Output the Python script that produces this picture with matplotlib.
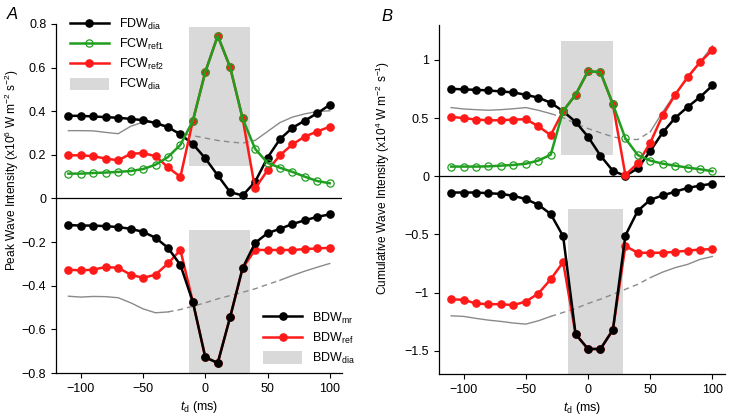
import numpy as np
import matplotlib
matplotlib.use("Agg")
import matplotlib.pyplot as plt

plt.rcParams["font.family"] = ["Liberation Sans", "DejaVu Sans"]
plt.rcParams["font.size"] = 9
plt.rcParams["mathtext.fontset"] = "custom"
plt.rcParams["mathtext.rm"] = "Liberation Sans"
plt.rcParams["mathtext.it"] = "Liberation Sans:italic"
plt.rcParams["axes.unicode_minus"] = True

# delay times (ms)
td = np.arange(-110, 101, 10)

# ---- panel A, peak wave intensity (x10^6 W m^-2 s^-2)
fdw_dia = [0.379, 0.379, 0.376, 0.373, 0.370, 0.365, 0.359, 0.346, 0.327, 0.294, 0.250,
           0.184, 0.106, 0.029, 0.014, 0.076, 0.187, 0.272, 0.324, 0.357, 0.391, 0.429]
fcw_ref1 = [0.114, 0.114, 0.117, 0.119, 0.122, 0.126, 0.135, 0.155, 0.190, 0.246, 0.356,
            0.580, 0.746, 0.601, 0.367, 0.228, 0.163, 0.141, 0.122, 0.100, 0.080, 0.070]
fcw_ref2 = [0.198, 0.198, 0.194, 0.183, 0.175, 0.205, 0.208, 0.194, 0.143, 0.099, 0.356,
            0.580, 0.746, 0.601, 0.367, 0.046, 0.129, 0.198, 0.248, 0.284, 0.307, 0.329]
fwd_ref_A = [0.311, 0.311, 0.310, 0.303, 0.297, 0.331, 0.350, 0.349, 0.330, 0.300, 0.288,
             0.277, 0.266, 0.259, 0.254, 0.266, 0.307, 0.348, 0.373, 0.388, 0.399, 0.402]
bdw_mr = [-0.122, -0.124, -0.124, -0.127, -0.131, -0.139, -0.153, -0.180, -0.226, -0.305, -0.474,
          -0.728, -0.754, -0.543, -0.319, -0.204, -0.159, -0.139, -0.117, -0.100, -0.084, -0.073]
bdw_ref = [-0.326, -0.330, -0.326, -0.314, -0.318, -0.349, -0.364, -0.349, -0.298, -0.236, -0.474,
           -0.728, -0.754, -0.543, -0.319, -0.236, -0.236, -0.236, -0.236, -0.232, -0.229, -0.226]
bwd_ref_A = [-0.448, -0.452, -0.449, -0.450, -0.455, -0.478, -0.506, -0.524, -0.520, -0.509, -0.494,
             -0.478, -0.460, -0.445, -0.430, -0.414, -0.394, -0.375, -0.353, -0.333, -0.315, -0.298]
fcw_dia_box_A = [-13, 36, 0.148, 0.784]
bdw_dia_box_A = [-13, 36, -0.8, -0.145]

# ---- panel B, cumulative wave intensity (x10^4 W m^-2 s^-1)
fdw_dia_B = [0.752, 0.746, 0.743, 0.737, 0.729, 0.720, 0.700, 0.675, 0.632, 0.558, 0.467,
             0.339, 0.177, 0.046, 0.003, 0.068, 0.216, 0.376, 0.501, 0.595, 0.680, 0.780]
fcw_ref1_B = [0.083, 0.083, 0.083, 0.085, 0.091, 0.097, 0.108, 0.134, 0.185, 0.561, 0.700,
              0.903, 0.894, 0.618, 0.325, 0.182, 0.134, 0.108, 0.091, 0.074, 0.060, 0.043]
fcw_ref2_B = [0.510, 0.500, 0.487, 0.481, 0.481, 0.487, 0.490, 0.430, 0.353, 0.561, 0.700,
              0.903, 0.894, 0.618, 0.011, 0.111, 0.287, 0.524, 0.700, 0.851, 0.980, 1.085]
fwd_ref_B = [0.590, 0.578, 0.572, 0.567, 0.572, 0.580, 0.590, 0.567, 0.538, 0.504, 0.453,
             0.410, 0.373, 0.339, 0.316, 0.316, 0.381, 0.552, 0.709, 0.840, 0.980, 1.120]
bdw_mr_B = [-0.140, -0.140, -0.140, -0.146, -0.152, -0.168, -0.197, -0.245, -0.325, -0.516, -1.357,
            -1.485, -1.485, -1.320, -0.510, -0.297, -0.203, -0.165, -0.133, -0.101, -0.081, -0.064]
bdw_ref_B = [-1.057, -1.063, -1.094, -1.100, -1.100, -1.108, -1.077, -1.009, -0.886, -0.738, -1.357,
             -1.485, -1.485, -1.320, -0.600, -0.658, -0.658, -0.658, -0.650, -0.640, -0.630, -0.627]
bwd_ref_B = [-1.200, -1.205, -1.222, -1.237, -1.248, -1.262, -1.271, -1.243, -1.205, -1.171, -1.137,
             -1.094, -1.057, -1.015, -0.972, -0.929, -0.872, -0.824, -0.786, -0.758, -0.715, -0.690]
fcw_dia_box_B = [-22, 20, 0.18, 1.16]
bdw_dia_box_B = [-16, 28, -1.7, -0.28]

# dashed part of the grey reference curves (start, end in ms)
dash_A_top = (-30, 40)
dash_A_bot = (-30, 60)
dash_B_top = (-30, 50)
dash_B_bot = (-30, 50)

BLACK = "black"
GREEN = "#1f9e1f"
RED = "#ff1a1a"
GREY = "#8a8a8a"
BOX = "#d9d9d9"


def grey_curve(ax, y, dash):
    y = np.asarray(y)
    i = int(np.where(td == dash[0])[0][0])
    j = int(np.where(td == dash[1])[0][0])
    ax.plot(td[:i + 1], y[:i + 1], color=GREY, lw=1.0, zorder=2)
    ax.plot(td[i:j + 1], y[i:j + 1], color=GREY, lw=1.0, ls=(0, (4, 3)), zorder=2)
    ax.plot(td[j:], y[j:], color=GREY, lw=1.0, zorder=2)


def box(ax, b, label=None):
    ax.fill_between([b[0], b[1]], b[2], b[3], color=BOX, lw=0, zorder=1, label=label)


def style(ax):
    for s in ["top", "right"]:
        ax.spines[s].set_visible(False)
    ax.spines["left"].set_linewidth(0.9)
    ax.spines["bottom"].set_linewidth(0.9)
    ax.tick_params(direction="out", length=3.5, width=0.8, labelsize=9)
    ax.axhline(0, color="black", lw=0.9, zorder=1.5)
    ax.set_xlim(-120, 110)
    ax.set_xticks([-100, -50, 0, 50, 100])
    ax.set_xlabel(r"$t_{\mathrm{d}}$ (ms)", fontsize=9, labelpad=3)


ms = 5.2
fig = plt.figure(figsize=(7.3, 4.15), dpi=100)

# ---------------- A
axA = fig.add_axes([0.0767, 0.1012, 0.392, 0.841])
box(axA, fcw_dia_box_A, r"FCW$_{\mathrm{dia}}$")
box(axA, bdw_dia_box_A, r"BDW$_{\mathrm{dia}}$")
grey_curve(axA, fwd_ref_A, dash_A_top)
grey_curve(axA, bwd_ref_A, dash_A_bot)
l1, = axA.plot(td, fdw_dia, "-o", color=BLACK, lw=1.8, ms=ms, zorder=3)
l3, = axA.plot(td, fcw_ref2, "-o", color=RED, lw=1.8, ms=ms, zorder=4)
l2, = axA.plot(td, fcw_ref1, "-o", color=GREEN, mfc="none", mew=0.9, lw=1.8, ms=ms, zorder=5)
l5, = axA.plot(td, bdw_ref, "-o", color=RED, lw=1.8, ms=ms, zorder=3)
l4, = axA.plot(td, bdw_mr, "-o", color=BLACK, lw=1.8, ms=ms, zorder=4)
style(axA)
axA.set_ylim(-0.8, 0.8)
yt = np.round(np.arange(-0.8, 0.81, 0.2), 1)
axA.set_yticks(yt)
axA.set_yticklabels(["0" if v == 0 else f"{v:g}".replace("-", "\u2212") for v in yt])
axA.set_ylabel(r"Peak Wave Intensity (x10$^{6}$ W m$^{-2}$ s$^{-2}$)", fontsize=8.6)
axA.yaxis.set_label_coords(-0.122, 0.58)

hA = axA.get_legend_handles_labels()[0]
patch_top, patch_bot = hA[0], hA[1]
leg1 = axA.legend([l1, l2, l3, patch_top],
                  [r"FDW$_{\mathrm{dia}}$", r"FCW$_{\mathrm{ref1}}$", r"FCW$_{\mathrm{ref2}}$", r"FCW$_{\mathrm{dia}}$"],
                  loc="upper left", bbox_to_anchor=(0.049, 1.02), frameon=False, borderpad=0,
                  borderaxespad=0, handlelength=3.1, handleheight=1.2, labelspacing=0.4,
                  handletextpad=0.8, numpoints=1, fontsize=9)
axA.add_artist(leg1)
axA.legend([l4, l5, patch_bot],
           [r"BDW$_{\mathrm{mr}}$", r"BDW$_{\mathrm{ref}}$", r"BDW$_{\mathrm{dia}}$"],
           loc="lower left", bbox_to_anchor=(0.724, 0.02), frameon=False, borderpad=0,
           borderaxespad=0, handlelength=3.1, handleheight=1.2, labelspacing=0.4,
           handletextpad=0.8, numpoints=1, fontsize=9)
fig.text(0.010, 0.965, "A", fontsize=12, style="italic", va="center")

# ---------------- B
axB = fig.add_axes([0.601, 0.0988, 0.392, 0.841])
box(axB, fcw_dia_box_B)
box(axB, bdw_dia_box_B)
grey_curve(axB, fwd_ref_B, dash_B_top)
grey_curve(axB, bwd_ref_B, dash_B_bot)
axB.plot(td, fdw_dia_B, "-o", color=BLACK, lw=1.8, ms=ms, zorder=3)
axB.plot(td, fcw_ref2_B, "-o", color=RED, lw=1.8, ms=ms, zorder=4)
axB.plot(td, fcw_ref1_B, "-o", color=GREEN, mfc="none", mew=0.9, lw=1.8, ms=ms, zorder=5)
axB.plot(td, bdw_ref_B, "-o", color=RED, lw=1.8, ms=ms, zorder=3)
axB.plot(td, bdw_mr_B, "-o", color=BLACK, lw=1.8, ms=ms, zorder=4)
style(axB)
axB.set_ylim(-1.7, 1.3)
ytB = [-1.5, -1, -0.5, 0, 0.5, 1]
axB.set_yticks(ytB)
axB.set_yticklabels([f"{v:g}".replace("-", "\u2212") for v in ytB])
axB.set_ylabel(r"Cumulative Wave Intensity (x10$^{4}$ W m$^{-2}$ s$^{-1}$)", fontsize=8.6)
axB.yaxis.set_label_coords(-0.162, 0.562)
fig.text(0.522, 0.96, "B", fontsize=12, style="italic", va="center")

fig.savefig("out.png", dpi=100)
